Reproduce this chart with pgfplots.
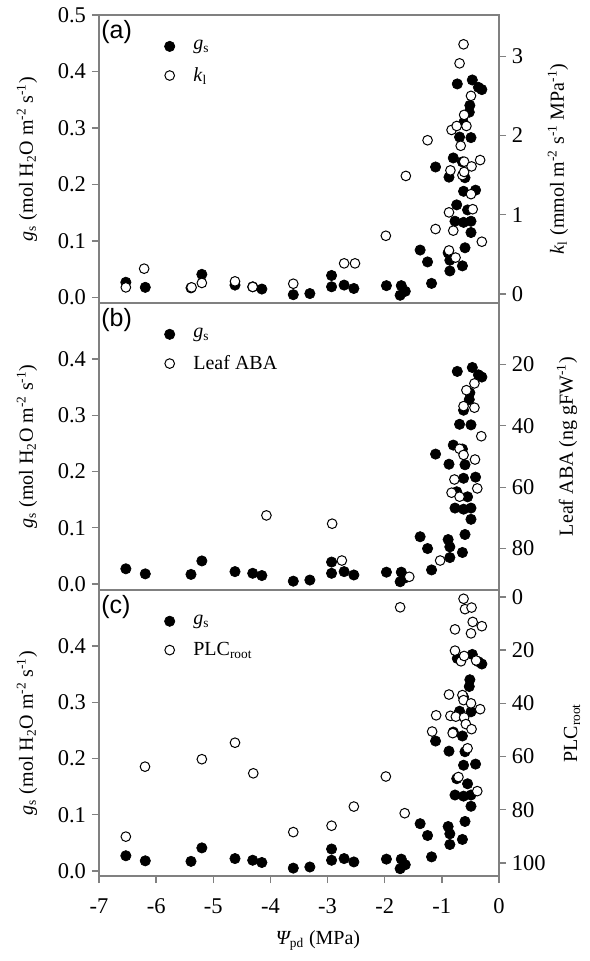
\documentclass[border=0pt]{standalone}
\usepackage{fontspec}
\setmainfont{Liberation Serif}
\newfontfamily\panelfont{Liberation Sans}
\usepackage{pgfplots}
\pgfplotsset{compat=1.18}

% stomatal conductance, same in all three panels
\pgfplotstableread{
x y
-6.53 0.027
-6.19 0.018
-5.39 0.017
-5.20 0.041
-4.62 0.022
-4.31 0.019
-4.15 0.015
-3.60 0.005
-3.31 0.007
-2.93 0.039
-2.93 0.019
-2.71 0.022
-2.54 0.016
-1.97 0.021
-1.71 0.021
-1.73 0.004
-1.64 0.011
-1.38 0.084
-1.25 0.063
-1.18 0.025
-1.11 0.231
-0.875 0.213
-0.89 0.079
-0.86 0.066
-0.86 0.047
-0.80 0.247
-0.77 0.135
-0.74 0.164
-0.73 0.378
-0.69 0.284
-0.64 0.056
-0.64 0.240
-0.62 0.309
-0.62 0.188
-0.62 0.133
-0.595 0.212
-0.595 0.088
-0.55 0.155
-0.51 0.340
-0.52 0.328
-0.49 0.283
-0.49 0.135
-0.49 0.115
-0.467 0.385
-0.41 0.190
-0.36 0.372
-0.30 0.368
}\gsdata

\pgfplotstableread{
x y
-6.53 0.084
-6.21 0.32
-5.38 0.084
-5.20 0.14
-4.62 0.16
-4.31 0.09
-3.60 0.13
-2.71 0.387
-2.52 0.387
-1.98 0.735
-1.63 1.49
-1.25 1.94
-1.11 0.82
-0.875 1.03
-0.875 0.55
-0.85 1.56
-0.83 2.07
-0.80 0.80
-0.76 0.46
-0.74 2.12
-0.69 2.91
-0.67 1.87
-0.64 1.50
-0.62 3.15
-0.61 2.26
-0.61 1.67
-0.61 1.54
-0.57 2.12
-0.49 2.50
-0.49 1.26
-0.48 1.61
-0.46 1.07
-0.33 1.69
-0.30 0.66
}\kldata

\pgfplotstableread{
x y
-4.07 69.2
-2.92 71.9
-2.75 83.9
-1.57 89.2
-1.03 83.9
-0.83 61.8
-0.78 57.5
-0.69 47.5
-0.69 63.1
-0.62 33.6
-0.62 49.5
-0.57 28.4
-0.43 26.2
-0.43 34.1
-0.42 51.0
-0.38 60.4
-0.31 43.4
}\abadata

\pgfplotstableread{
x y
-6.53 90.1
-6.195 63.8
-5.20 61.0
-4.62 54.8
-4.30 66.3
-3.60 88.4
-2.93 86.0
-2.54 78.8
-1.98 67.5
-1.65 81.3
-1.73 3.9
-1.17 50.6
-1.10 44.5
-0.875 36.7
-0.85 44.7
-0.81 51.2
-0.77 12.2
-0.77 20.2
-0.755 45.0
-0.71 67.7
-0.665 24.2
-0.64 36.9
-0.62 0.7
-0.62 38.8
-0.61 22.2
-0.61 45.3
-0.595 4.6
-0.58 47.8
-0.55 56.9
-0.49 13.7
-0.49 40.0
-0.48 4.0
-0.48 49.7
-0.46 9.4
-0.40 23.9
-0.38 73.0
-0.33 42.2
-0.30 11.0
}\plcdata

\tikzset{plabel/.style={anchor=north west, inner sep=0pt, font=\panelfont\fontsize{15}{15}\selectfont}}

\pgfplotsset{
  panel/.style={
    width=240pt, scale only axis, xmin=-7, xmax=0,
    axis line style={black!50, line width=0.8pt},
    tick style={black!50, line width=0.8pt},
    tick align=outside,
    tick label style={font=\fontsize{13.5}{15}\selectfont, black},
    label style={font=\fontsize{12}{14}\selectfont},
    /pgf/number format/assume math mode=true,
  },
  gsaxis/.style={panel,
    ytick pos=left,
    yticklabel style={/pgf/number format/.cd, fixed, fixed zerofill, precision=1},
    ylabel={\textit{g}\textsubscript{s} (mol H\textsubscript{2}O m\textsuperscript{-2} s\textsuperscript{-1})},
    ylabel style={at={(axis description cs:-0.18,0.5)}, anchor=center},
    legend style={draw=none, fill=none, font=\fontsize{12}{14}\selectfont, row sep=5pt,
      at={(axis description cs:0.148,0.936)}, anchor=north west},
    legend cell align=left,
    legend image code/.code={\path (0pt,0pt) (15.5pt,0pt); \draw[##1] plot coordinates {(3.5pt,0pt)};},
  },
  rightaxis/.style={panel, axis x line=none, axis y line*=right, xtick=\empty},
  filled/.style={only marks, mark=*, mark size=3.1pt, black, mark options={fill=black}},
  open/.style={only marks, mark=*, mark size=2.9pt, black, mark options={fill=white, draw=black, line width=0.6pt}},
}

\begin{document}
\begin{tikzpicture}
\useasboundingbox (-59.4pt,-51pt) rectangle (294.6pt,525.6pt);

% (a)
\begin{axis}[gsaxis, at={(0pt,343.8pt)}, anchor=south west, height=172.8pt,
  ymin=-0.0097, ymax=0.5, ytick={0,0.1,...,0.5}, xtick=\empty]
\addplot[filled] table {\gsdata};
\addlegendentry{\textit{g}\textsubscript{s}}
\addlegendimage{open}
\addlegendentry{\textit{k}\textsubscript{l}}
\node[plabel] at (axis description cs:0.005,0.982) {(a)};
\end{axis}
\begin{axis}[rightaxis, at={(0pt,343.8pt)}, anchor=south west, height=172.8pt,
  ymin=-0.113, ymax=3.52, ytick={0,1,2,3},
  ylabel={\textit{k}\textsubscript{l} (mmol m\textsuperscript{-2} s\textsuperscript{-1} MPa\textsuperscript{-1})},
  ylabel style={at={(axis description cs:1.1475,0.5)}, anchor=center}]
\addplot[open] table {\kldata};
\end{axis}

% (b)
\begin{axis}[gsaxis, at={(0pt,171.6pt)}, anchor=south west, height=172.2pt,
  ymin=-0.0107, ymax=0.4997, ytick={0,0.1,...,0.4}, xtick=\empty]
\addplot[filled] table {\gsdata};
\addlegendentry{\textit{g}\textsubscript{s}}
\addlegendimage{open}
\addlegendentry{Leaf ABA}
\node[plabel] at (axis description cs:0.005,0.982) {(b)};
\end{axis}
\begin{axis}[rightaxis, at={(0pt,171.6pt)}, anchor=south west, height=172.2pt,
  y dir=reverse, ymin=0, ymax=93.5, ytick={20,40,60,80},
  ylabel={Leaf ABA (ng gFW\textsuperscript{-1})},
  ylabel style={at={(axis description cs:1.17,0.5)}, anchor=center}]
\addplot[open] table {\abadata};
\end{axis}

% (c)
\begin{axis}[gsaxis, at={(0pt,0pt)}, anchor=south west, height=171.6pt,
  ymin=-0.009, ymax=0.4996, ytick={0,0.1,...,0.4},
  xtick={-7,-6,...,0}, xticklabels={-7,-6,-5,-4,-3,-2,-1,0}, xtick pos=bottom,
  xticklabel style={yshift=-6pt},
  xlabel={{\itshape Ψ}\textsubscript{pd} (MPa)},
  xlabel style={at={(axis description cs:0.5475,-0.224)}, anchor=center}]
\addplot[filled] table {\gsdata};
\addlegendentry{\textit{g}\textsubscript{s}}
\addlegendimage{open}
\addlegendentry{PLC\textsubscript{root}}
\node[plabel] at (axis description cs:0.005,0.982) {(c)};
\end{axis}
\begin{axis}[rightaxis, at={(0pt,0pt)}, anchor=south west, height=171.6pt,
  y dir=reverse, ymin=-2.6, ymax=104.9, ytick={0,20,...,100},
  ylabel={PLC\textsubscript{root}},
  ylabel style={at={(axis description cs:1.1825,0.5)}, anchor=center}]
\addplot[open] table {\plcdata};
\end{axis}
\end{tikzpicture}
\end{document}
